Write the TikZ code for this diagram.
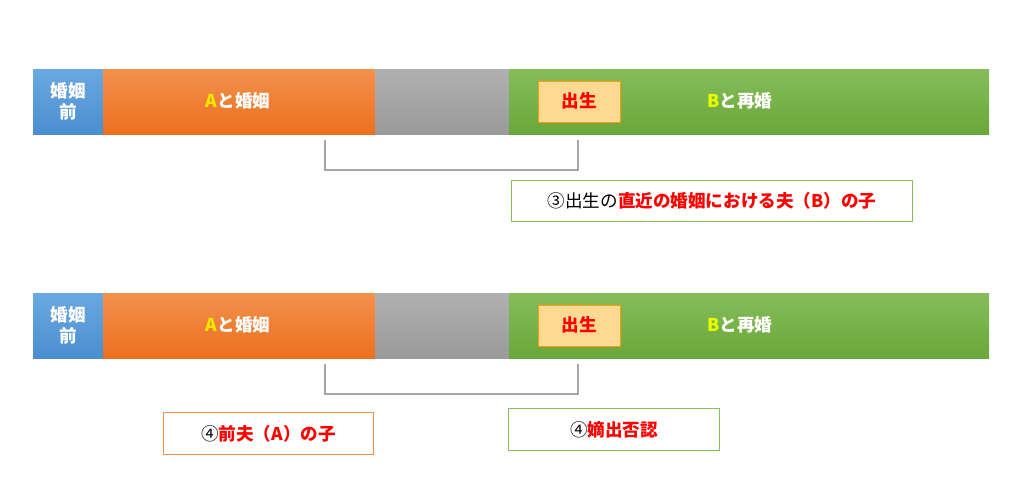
\documentclass[tikz,border=0pt]{standalone}
\usepackage{fontspec}
\setmainfont{Noto Sans CJK JP}
\newfontfamily\jpb{Noto Sans CJK JP}[BoldFont={* Bold}]
\definecolor{bl}{HTML}{4A8FD0}
\definecolor{blt}{HTML}{6AA8E0}
\definecolor{org}{HTML}{EC6F1E}
\definecolor{orgt}{HTML}{F2914D}
\definecolor{gry}{HTML}{9A9A9A}
\definecolor{gryt}{HTML}{B0B0B0}
\definecolor{grn}{HTML}{6AA73A}
\definecolor{grnt}{HTML}{85BD5A}
\definecolor{bday}{HTML}{FFD992}
\definecolor{yl}{HTML}{FFE600}
\definecolor{ylg}{HTML}{E8FF00}
\begin{document}
\begin{tikzpicture}[x=0.02cm,y=-0.02cm,
  seg/.style={top color=#1t,bottom color=#1,draw=none},
  wt/.style={text=white,font=\bfseries\fontsize{10pt}{12pt}\selectfont,align=center},
  bdaybox/.style={fill=bday,draw=orange!80!yellow,line width=0.5pt,text=red,font=\bfseries\fontsize{10pt}{12pt}\selectfont},
  note/.style={fill=white,line width=0.6pt,font=\fontsize{10pt}{12pt}\selectfont},
  brk/.style={draw=gray!70,line width=0.6pt}]
\useasboundingbox (0,0) rectangle (1024,491);
\foreach \o/\r in {0/a,224/b}{
  \shade[seg=bl] (33,69+\o) rectangle (103,134+\o);
  \shade[seg=org] (103,69+\o) rectangle (375,134+\o);
  \shade[seg=gry] (375,69+\o) rectangle (509,134+\o);
  \shade[seg=grn] (509,69+\o) rectangle (989,134+\o);
  \node[wt] (pre\r) at (68,101+\o) {婚姻\\前};
  \node[wt] (am\r) at (238,101+\o) {\textcolor{yl}{A}と婚姻};
  \node[wt] (bm\r) at (740,101+\o) {\textcolor{ylg}{B}と再婚};
  \node[bdaybox,minimum width=82\pgflinewidth,inner sep=0pt] (bd\r) at (579,101+\o) {};
}
\foreach \r/\o in {a/0,b/224}{
  \draw[bdaybox] (538,81+\o) rectangle (620,122+\o);
  \node[text=red,font=\bfseries\fontsize{10pt}{12pt}\selectfont] at (579,101+\o) {出生};
  \coordinate (s\r) at (325,140+\o);
  \coordinate (e\r) at (578,140+\o);
  \draw[brk] (s\r) -- ++(0,30) -| (e\r);
}
\node[note,draw=grnt,minimum width=401*0.02cm,minimum height=41*0.02cm,anchor=north west] (n1) at (511,180) {③出生の\textcolor{red}{\bfseries 直近の婚姻における夫（B）の子}};
\node[note,draw=orgt,minimum width=210*0.02cm,minimum height=42*0.02cm,anchor=north west] (n2) at (163,412) {④\textcolor{red}{\bfseries 前夫（A）の子}};
\node[note,draw=grnt,minimum width=211*0.02cm,minimum height=42*0.02cm,anchor=north west] (n3) at (508,408) {④\textcolor{red}{\bfseries 嫡出否認}};
\end{tikzpicture}
\end{document}
